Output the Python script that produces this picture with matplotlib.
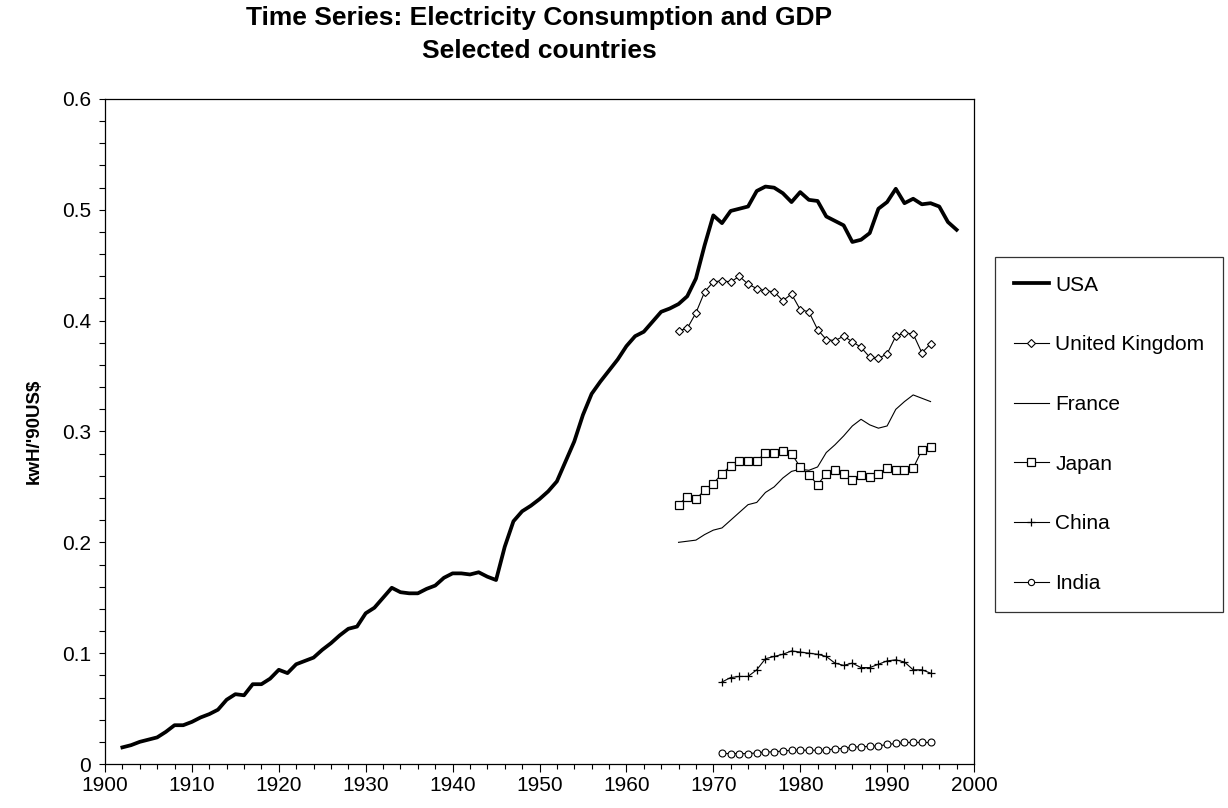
import matplotlib
matplotlib.use("Agg")
import matplotlib.pyplot as plt
from matplotlib.ticker import MultipleLocator, FuncFormatter

# ---------------- data ----------------
usa_years = list(range(1902, 1999))
usa = [0.015, 0.017, 0.020, 0.022, 0.024, 0.029, 0.035, 0.035, 0.038, 0.042,   # 1902-1911
       0.045, 0.049, 0.058, 0.063, 0.062, 0.072, 0.072, 0.077, 0.085, 0.082,   # 1912-1921
       0.090, 0.093, 0.096, 0.103, 0.109, 0.116, 0.122, 0.124, 0.136, 0.141,   # 1922-1931
       0.150, 0.159, 0.155, 0.154, 0.154, 0.158, 0.161, 0.168, 0.172, 0.172,   # 1932-1941
       0.171, 0.173, 0.169, 0.166, 0.196, 0.219, 0.228, 0.233, 0.239, 0.246,   # 1942-1951
       0.255, 0.273, 0.291, 0.315, 0.334, 0.345, 0.355, 0.365, 0.377, 0.386,   # 1952-1961
       0.390, 0.399, 0.408, 0.411, 0.415, 0.422, 0.438, 0.468, 0.495, 0.488,   # 1962-1971
       0.499, 0.501, 0.503, 0.517, 0.521, 0.520, 0.515, 0.507, 0.516, 0.509,   # 1972-1981
       0.508, 0.494, 0.490, 0.486, 0.471, 0.473, 0.479, 0.501, 0.507, 0.519,   # 1982-1991
       0.506, 0.510, 0.505, 0.506, 0.503, 0.489, 0.482]                        # 1992-1998

uk_years = list(range(1966, 1996))
uk = [0.391, 0.393, 0.407, 0.426, 0.435, 0.436, 0.435, 0.440, 0.433, 0.429,
      0.427, 0.426, 0.418, 0.424, 0.410, 0.408, 0.392, 0.383, 0.382, 0.386,
      0.381, 0.376, 0.367, 0.366, 0.370, 0.386, 0.389, 0.388, 0.371, 0.379]

france_years = list(range(1966, 1996))
france = [0.200, 0.201, 0.202, 0.207, 0.211, 0.213, 0.220, 0.227, 0.234, 0.236,
          0.245, 0.250, 0.258, 0.264, 0.266, 0.265, 0.268, 0.281, 0.288, 0.296,
          0.305, 0.311, 0.306, 0.303, 0.305, 0.320, 0.327, 0.333, 0.330, 0.327]

japan_years = list(range(1966, 1996))
japan = [0.234, 0.241, 0.239, 0.247, 0.253, 0.262, 0.269, 0.273, 0.273, 0.273,
         0.281, 0.281, 0.282, 0.280, 0.268, 0.261, 0.252, 0.262, 0.265, 0.262,
         0.256, 0.261, 0.259, 0.262, 0.267, 0.265, 0.265, 0.267, 0.283, 0.286]

china_years = list(range(1971, 1996))
china = [0.074, 0.078, 0.079, 0.079, 0.085, 0.095, 0.097, 0.099, 0.102, 0.101,
         0.100, 0.099, 0.097, 0.091, 0.089, 0.091, 0.087, 0.087, 0.090, 0.093,
         0.094, 0.092, 0.085, 0.085, 0.082]

india_years = list(range(1971, 1996))
india = [0.0095, 0.0094, 0.0094, 0.0094, 0.0100, 0.0109, 0.0109, 0.0118, 0.0124, 0.0124,
         0.0124, 0.0124, 0.0124, 0.0139, 0.0139, 0.0154, 0.0154, 0.0160, 0.0163, 0.0176,
         0.0185, 0.0194, 0.0194, 0.0194, 0.0194]

title_lines = ["Time Series: Electricity Consumption and GDP", "Selected countries"]
y_label = "kwH/'90US$"

# ---------------- figure ----------------
plt.rcParams['font.family'] = ['Liberation Sans', 'DejaVu Sans']
W, H = 1228, 808
fig = plt.figure(figsize=(W / 100, H / 100), dpi=100)

L, R, T, B = 105, 974, 99, 764
ax = fig.add_axes([L / W, 1 - B / H, (R - L) / W, (B - T) / H])

ax.plot(usa_years, usa, color='black', lw=2.7, solid_joinstyle='round', label='USA', zorder=5)
ax.plot(uk_years, uk, color='black', lw=0.8, marker='D', ms=4.0, mfc='white', mew=0.8,
        label='United Kingdom')
ax.plot(france_years, france, color='black', lw=0.8, label='France')
ax.plot(japan_years, japan, color='black', lw=0.8, marker='s', ms=6.0, mfc='white', mew=0.9,
        label='Japan')
ax.plot(china_years, china, color='black', lw=0.8, marker='+', ms=6.0, mew=0.9,
        label='China')
ax.plot(india_years, india, color='black', lw=0.8, marker='o', ms=5.0, mfc='white', mew=0.8,
        label='India')

ax.set_xlim(1900, 2000)
ax.set_ylim(0, 0.6)
ax.xaxis.set_major_locator(MultipleLocator(10))
ax.xaxis.set_minor_locator(MultipleLocator(2))
ax.yaxis.set_major_locator(MultipleLocator(0.1))
ax.yaxis.set_minor_locator(MultipleLocator(0.02))
ax.yaxis.set_major_formatter(FuncFormatter(lambda v, p: f"{v:g}"))

ax.tick_params(axis='x', which='major', direction='out', length=5.5, width=0.8,
               labelsize=15, pad=3)
ax.tick_params(axis='x', which='minor', direction='out', length=3.3, width=0.8)
ax.tick_params(axis='y', which='both', direction='out', length=4, width=0.8,
               labelsize=15, pad=6)
for s in ax.spines.values():
    s.set_linewidth(0.9)
    s.set_color('black')

ax.set_ylabel(y_label, fontsize=13.5, fontweight='bold', labelpad=14)

cx = (L + R) / 2 / W
fig.text(cx, 1 - 18 / H, title_lines[0], ha='center', va='center', fontsize=19,
         fontweight='bold')
fig.text(cx, 1 - 51 / H, title_lines[1], ha='center', va='center', fontsize=19,
         fontweight='bold')

leg = fig.legend(loc='upper left', bbox_to_anchor=(995 / W, 1 - 257 / H),
                 borderaxespad=0, fontsize=15, handlelength=1.7, handletextpad=0.3,
                 labelspacing=1.95, borderpad=0.9, numpoints=1, fancybox=False,
                 frameon=True, markerscale=0.9)
leg.get_frame().set_edgecolor('black')
leg.get_frame().set_linewidth(0.9)

fig.savefig('out.png', dpi=100)
